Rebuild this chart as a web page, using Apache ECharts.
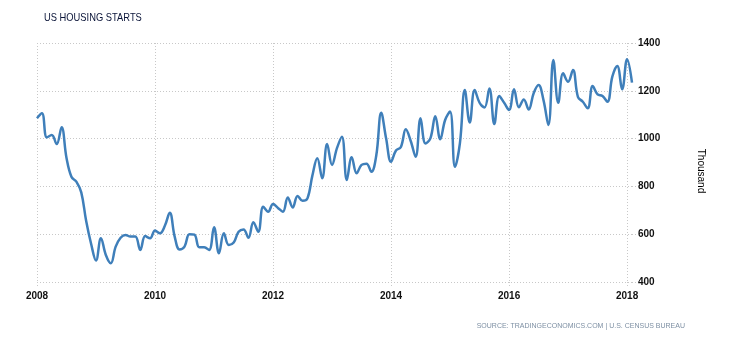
<!DOCTYPE html>
<html>
<head>
<meta charset="utf-8">
<script src="https://cdn.jsdelivr.net/npm/echarts@6/dist/echarts.min.js"></script>
<style>
  html, body { margin: 0; padding: 0; background: #fff; }
  #chart { width: 730px; height: 340px; }
</style>
</head>
<body>
<div id="chart"></div>
<script>
// Monthly housing starts, thousand units (seasonally adjusted annual rate)
var starts2008 = [1085, 1106, 1005, 1015, 977, 1047, 919, 840, 820, 775, 655, 560];
var starts2009 = [490, 583, 513, 478, 548, 585, 597, 590, 590, 534, 592, 583];
var starts2010 = [615, 604, 635, 690, 590, 536, 548, 600, 598, 545, 545, 534];
var starts2011 = [629, 520, 604, 555, 565, 610, 620, 585, 650, 610, 715, 694];
var starts2012 = [726, 710, 694, 754, 712, 760, 740, 750, 845, 918, 834, 977];
var starts2013 = [890, 960, 1008, 827, 922, 855, 890, 895, 861, 930, 1108, 1000];
var starts2014 = [903, 950, 965, 1039, 990, 924, 1085, 980, 1001, 1094, 997, 1078];
var starts2015 = [1113, 882, 980, 1203, 1067, 1203, 1150, 1130, 1210, 1061, 1178, 1150];
var starts2016 = [1120, 1206, 1131, 1164, 1122, 1190, 1224, 1161, 1057, 1329, 1150, 1273];
var starts2017 = [1238, 1287, 1175, 1154, 1127, 1220, 1185, 1178, 1154, 1259, 1304, 1206];
var starts2018 = [1332, 1234];

var firstYear = 2008;
var values = [].concat(starts2008, starts2009, starts2010, starts2011, starts2012,
  starts2013, starts2014, starts2015, starts2016, starts2017, starts2018);

// Month categories "YYYY-MM" matching the values above
var months = values.map(function (v, i) {
  var y = firstYear + Math.floor(i / 12);
  var m = (i % 12) + 1;
  return y + '-' + (m < 10 ? '0' + m : m);
});

// Year labels shown every two years, on January
var labelEvery = 24;

var chart = echarts.init(document.getElementById('chart'), null, { renderer: 'canvas' });

var gridLine = { type: [1, 2], color: '#c8c8c8', width: 1 };

chart.setOption({
  animation: false,
  backgroundColor: '#ffffff',
  grid: { left: 37, right: 98, top: 43, bottom: 58 },
  xAxis: {
    type: 'category',
    data: months,
    boundaryGap: false,
    axisLine: { show: false },
    axisTick: {
      show: true,
      length: 6,
      interval: function (i) { return i % labelEvery === 0; },
      lineStyle: gridLine
    },
    axisLabel: {
      interval: function (i) { return i % labelEvery === 0; },
      formatter: function (v) { return v.slice(0, 4); },
      fontFamily: 'Liberation Sans',
      fontSize: 10,
      fontWeight: 'bold',
      color: '#111',
      margin: 9
    },
    splitLine: {
      show: true,
      interval: function (i) { return i % labelEvery === 0; },
      lineStyle: gridLine
    }
  },
  yAxis: {
    type: 'value',
    position: 'right',
    min: 400,
    max: 1400,
    interval: 200,
    axisLine: { show: false },
    axisTick: { show: true, length: 5, lineStyle: gridLine },
    axisLabel: {
      formatter: function (v) { return String(v); },
      fontFamily: 'Liberation Sans',
      fontSize: 10,
      fontWeight: 'bold',
      color: '#111',
      margin: 6
    },
    splitLine: { show: true, lineStyle: gridLine }
  },
  series: [{
    type: 'line',
    data: values,
    smooth: 0.4,
    showSymbol: false,
    lineStyle: { color: '#3f7fba', width: 2.5 }
  }],
  graphic: [{
    // chart title, slightly condensed
    type: 'text',
    x: 44,
    y: 18,
    scaleX: 0.85,
    style: {
      text: 'US HOUSING STARTS',
      fontFamily: 'Liberation Sans',
      fontSize: 11,
      fill: '#0a1438',
      verticalAlign: 'middle'
    }
  }, {
    // unit label beside the value axis, reading top to bottom
    type: 'text',
    x: 701,
    y: 171,
    rotation: -Math.PI / 2,
    style: {
      text: 'Thousand',
      fontFamily: 'Liberation Sans',
      fontSize: 10,
      fill: '#000',
      align: 'center',
      verticalAlign: 'middle'
    }
  }, {
    // source note, bottom right
    type: 'text',
    x: 685,
    y: 326,
    scaleX: 0.875,
    style: {
      text: 'SOURCE: TRADINGECONOMICS.COM | U.S. CENSUS BUREAU',
      fontFamily: 'Liberation Sans',
      fontSize: 8,
      fill: '#7d8fa3',
      align: 'right',
      verticalAlign: 'middle'
    }
  }]
});
</script>
</body>
</html>
